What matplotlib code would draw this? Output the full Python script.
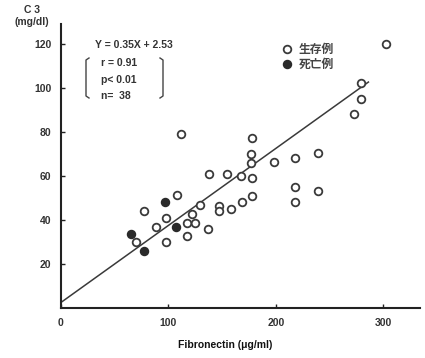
import numpy as np
import matplotlib
matplotlib.use("Agg")
import matplotlib.pyplot as plt
from matplotlib.lines import Line2D

plt.rcParams['font.family'] = ['Liberation Sans', 'Noto Sans CJK JP', 'DejaVu Sans']

# survivors (open circles)
alive_x = [302, 279, 279, 273, 112, 178, 177, 177, 198, 218, 239, 138, 154, 167, 178,
           218, 239, 218, 178, 168, 158, 147, 147, 137, 108, 129, 77, 122, 98, 117,
           125, 88, 70, 98, 117]
alive_y = [120, 102, 95, 88, 79, 77, 70, 66, 66.5, 68, 70.5, 61, 61, 60, 59,
           55, 53, 48, 51, 48, 45, 46.5, 44, 36, 51.5, 47, 44, 42.5, 41, 38.5,
           38.5, 37, 30, 30, 32.5]
# deaths (filled circles)
dead_x = [97, 107, 65, 77]
dead_y = [48, 37, 33.5, 26]

slope, intercept = 0.35, 2.53
line_x = [0, 286]

W, H = 425, 358
fig = plt.figure(figsize=(W / 100, H / 100), dpi=100)
ax = fig.add_axes([61 / W, 1 - 308 / H, (420 - 61) / W, (308 - 24) / H])

ink = '#3a3a3a'
ax.plot(alive_x, alive_y, 'o', ms=5.5, mfc='white', mec=ink, mew=1.3, ls='none',
        label='生存例', zorder=3)
ax.plot(dead_x, dead_y, 'o', ms=5.5, mfc='#2a2a2a', mec='#2a2a2a', mew=1.3, ls='none',
        label='死亡例', zorder=3)
lx = np.array(line_x)
ax.plot(lx, slope * lx + intercept, color=ink, lw=1.1, zorder=2)

ax.set_xlim(0, 334)
ax.set_ylim(0, 129)
ax.set_xticks([0, 100, 200, 300])
ax.set_yticks([20, 40, 60, 80, 100, 120])
for s in ['top', 'right']:
    ax.spines[s].set_visible(False)
for s in ['left', 'bottom']:
    ax.spines[s].set_linewidth(1.5)
    ax.spines[s].set_color('#222222')
ax.tick_params(direction='in', length=3, width=1, colors='#222222',
               labelsize=7.5, pad=7)
for lab in ax.get_xticklabels() + ax.get_yticklabels():
    lab.set_fontweight('bold')
    lab.set_color('#333333')

fig.text(32 / W, 1 - 16 / H, 'C 3\n(mg/dl)', ha='center', va='center',
         fontsize=7.5, fontweight='bold', color='#333333', linespacing=1.15)
fig.text(225 / W, 1 - 345 / H, 'Fibronectin (μg/ml)', ha='center', va='center',
         fontsize=7.5, fontweight='bold', color='#111111')

# regression annotation
fig.text(134 / W, 1 - 45 / H, 'Y = 0.35X + 2.53', ha='center', va='center',
         fontsize=7.5, fontweight='bold', color='#333333')
for txt, py in [('r = 0.91', 63), ('p< 0.01', 80), ('n=  38', 96)]:
    fig.text(101 / W, 1 - py / H, txt, ha='left', va='center',
             fontsize=7.5, fontweight='bold', color='#333333')

def bracket(px, hook):
    xs = [px + hook, px, px, px + hook]
    ys = [58, 60, 96, 98]
    fig.add_artist(Line2D([x / W for x in xs], [1 - y / H for y in ys],
                          transform=fig.transFigure, color='#444444', lw=1.0))

bracket(86, 3)
bracket(163, -3)

leg = ax.legend(loc='upper left', bbox_to_anchor=(276 / W, 1 - 38 / H),
                bbox_transform=fig.transFigure, frameon=False,
                prop={'size': 8.5, 'weight': 'bold'},
                handlelength=0.8, handletextpad=0.6, labelspacing=0.25,
                borderpad=0, labelcolor='#444444')

fig.savefig('out.png', dpi=100)
